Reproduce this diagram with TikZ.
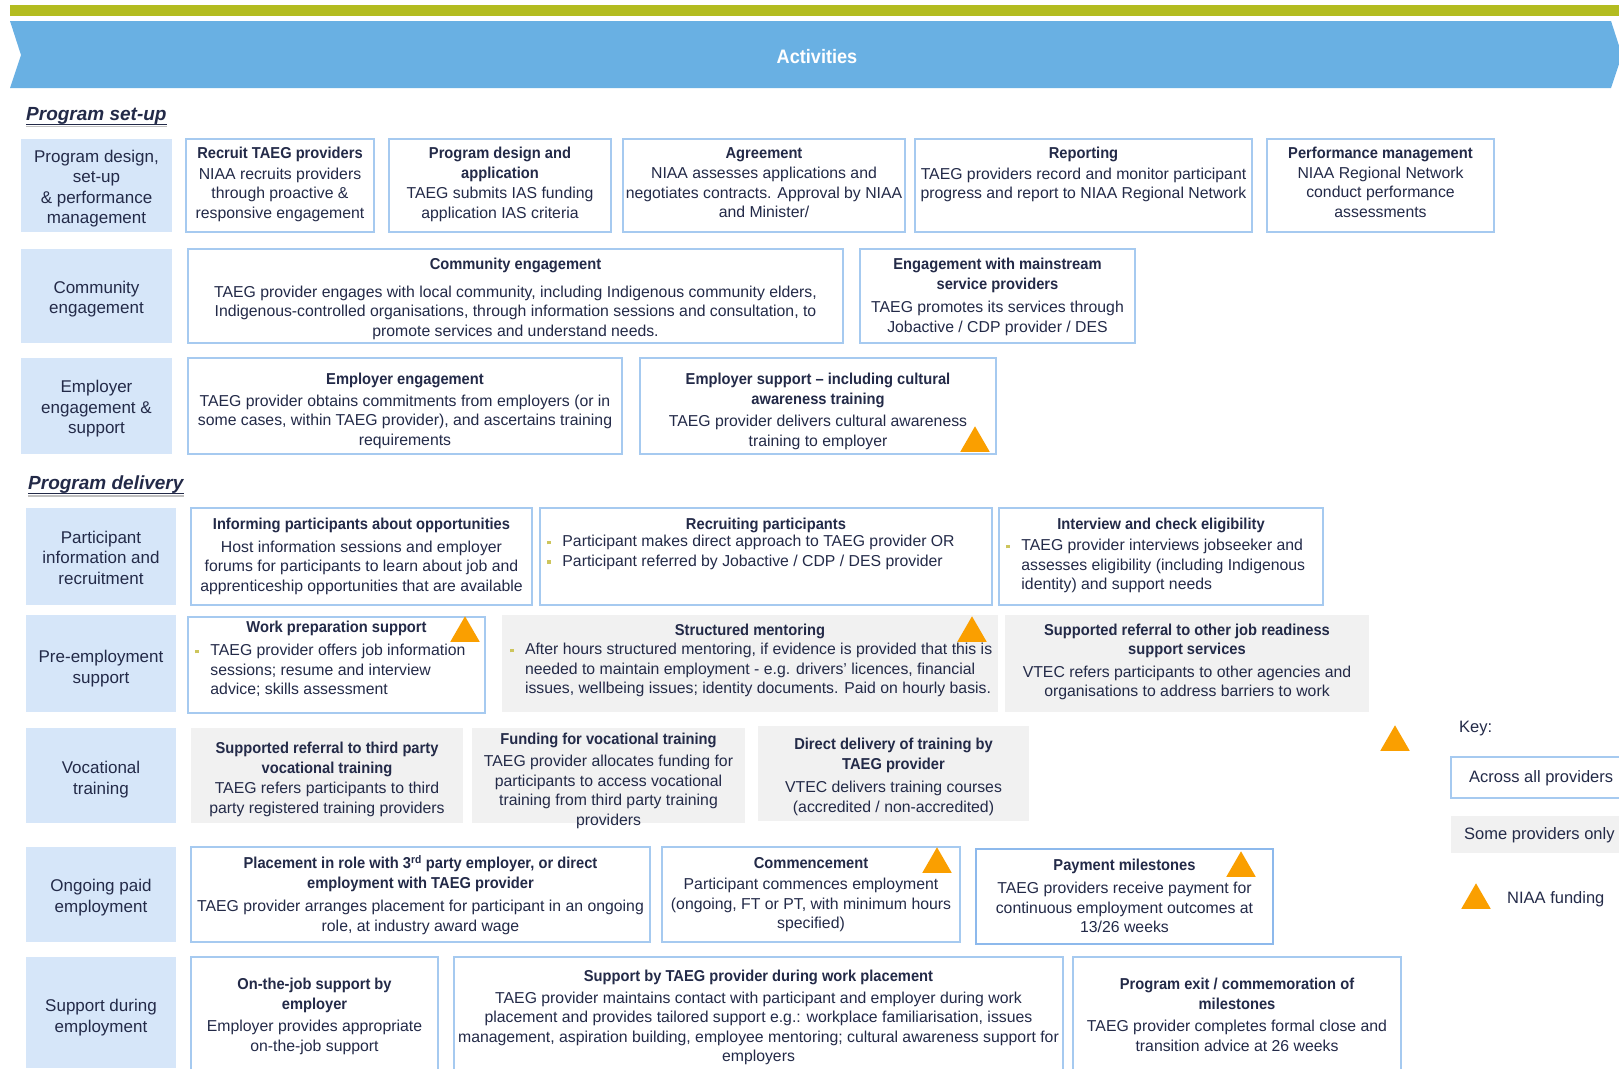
\documentclass[tikz,border=0pt]{standalone}
\usepackage{fontspec}
\setmainfont{Liberation Sans}[BoldFeatures={FakeStretch=0.93}]
\usetikzlibrary{fit, shapes.geometric}
\definecolor{BarGreen}{HTML}{B3BC20}
\definecolor{BannerBlue}{HTML}{69B0E3}
\definecolor{LabBlue}{HTML}{D6E6F9}
\definecolor{EdgeBlue}{HTML}{A6CAF0}
\definecolor{MilestoneBlue}{HTML}{8DB9EC}
\definecolor{SomeGrey}{HTML}{F1F1F1}
\definecolor{NiaaOrange}{HTML}{FA9F00}
\definecolor{DotOlive}{HTML}{CDC55C}
\definecolor{InkNavy}{HTML}{232A48}
% bullet and hanging indent
\newcommand{\blt}{\makebox[19pt][l]{\hspace{4pt}\textcolor{DotOlive}{\rule[2.5pt]{3.5pt}{3.5pt}}}}
\newcommand{\bind}{\hspace*{19pt}}

\begin{document}
\begin{tikzpicture}[
    x=1pt, y=-1pt,
    font=\fontsize{15.8}{19.5}\selectfont, text=InkNavy,
    lab/.style={fill=LabBlue, inner sep=0pt},
    labtxt/.style={align=center, inner sep=0pt, yshift=-3pt, font=\fontsize{17}{20.5}\selectfont},
    box/.style={draw=EdgeBlue, line width=1.5pt, fill=white, inner sep=0pt},
    some/.style={fill=SomeGrey, inner sep=0pt},
    txt/.style={align=center, inner sep=0pt, anchor=north},
    lst/.style={align=left, inner sep=0pt, anchor=north west},
    tri/.style={regular polygon, regular polygon sides=3, fill=NiaaOrange, inner sep=0pt,
                minimum size=34pt, anchor=side 2},
    head/.style={font=\fontsize{19}{22}\selectfont\bfseries\itshape, inner sep=0pt,
                 anchor=west, text depth=0pt},
    key/.style={font=\fontsize{16.5}{20}\selectfont, inner sep=0pt, anchor=west},
  ]
  \useasboundingbox (0,0) rectangle (1619,1068);
  \clip (0,0) rectangle (1619,1068);

  % banner
  \fill[BarGreen] (10,5) rectangle (1619,16);
  \fill[BannerBlue] (10,21) -- (1611,21) -- (1622,55) -- (1611,88) -- (10,88) -- (21,55) -- cycle;
  \node[font=\fontsize{19.5}{22}\selectfont\bfseries, text=white] (acts) at (817,57) {Activities};

  % Program set-up
  \node[head] (setup) at (26,114) {Program set-up};
  \draw[black!25, line width=1.5pt] ([yshift=-6pt]setup.south west) -- ([yshift=-6pt]setup.south east);
  \draw[InkNavy, line width=1.3pt] ([yshift=-3.5pt]setup.south west) -- ([yshift=-3.5pt]setup.south east);

  % row 1
  \node[lab, fit={(21,139) (172,232)}] (lset) {};
  \node[labtxt] (lset-t) at (lset.center) {Program design,\\set-up\\\& performance\\management};
  \node[box, fit={(186,139) (374,232)}] (recruit) {};
  \node[txt] (recruit-t) at ([yshift=-9pt]recruit.north)
    {\textbf{Recruit TAEG providers}\\[1pt]NIAA recruits providers\\through proactive \&\\responsive engagement};
  \node[box, fit={(389,139) (611,232)}] (pdesign) {};
  \node[txt] (pdesign-t) at ([yshift=-9pt]pdesign.north)
    {\textbf{Program design and}\\\textbf{application}\\[1pt]TAEG submits IAS funding\\application IAS criteria};
  \node[box, fit={(623,139) (905,232)}] (agree) {};
  \node[txt] (agree-t) at ([yshift=-9pt]agree.north)
    {\textbf{Agreement}\\[1pt]NIAA assesses applications and\\negotiates contracts. Approval by NIAA\\and Minister/};
  \node[box, fit={(915,139) (1252,232)}] (report) {};
  \node[txt] (report-t) at ([yshift=-9pt]report.north)
    {\textbf{Reporting}\\[1pt]TAEG providers record and monitor participant\\progress and report to NIAA Regional Network};
  \node[box, fit={(1267,139) (1494,232)}] (perf) {};
  \node[txt] (perf-t) at ([yshift=-9pt]perf.north)
    {\textbf{Performance management}\\NIAA Regional Network\\conduct performance\\assessments};

  % row 2
  \node[lab, fit={(21,249) (172,343)}] (lcomm) {};
  \node[labtxt] (lcomm-t) at (lcomm.center) {Community\\engagement};
  \node[box, fit={(188,249) (843,343)}] (comm) {};
  \node[txt] (comm-t) at ([yshift=-10pt]comm.north)
    {\textbf{Community engagement}\\[8pt]TAEG provider engages with local community, including Indigenous community elders,\\Indigenous-controlled organisations, through information sessions and consultation, to\\promote services and understand needs.};
  \node[box, fit={(860,249) (1135,343)}] (mainstr) {};
  \node[txt] (mainstr-t) at ([yshift=-10pt]mainstr.north)
    {\textbf{Engagement with mainstream}\\\textbf{service providers}\\[4pt]TAEG promotes its services through\\Jobactive / CDP provider / DES};

  % row 3
  \node[lab, fit={(21,358) (172,454)}] (lemp) {};
  \node[labtxt] (lemp-t) at (lemp.center) {Employer\\engagement \&\\support};
  \node[box, fit={(188,358) (622,454)}] (empeng) {};
  \node[txt] (empeng-t) at ([yshift=-16pt]empeng.north)
    {\textbf{Employer engagement}\\[2pt]TAEG provider obtains commitments from employers (or in\\some cases, within TAEG provider), and ascertains training\\requirements};
  \node[box, fit={(640,358) (996,454)}] (empsup) {};
  \node[txt] (empsup-t) at ([yshift=-16pt]empsup.north)
    {\textbf{Employer support -- including cultural}\\\textbf{awareness training}\\[3pt]TAEG provider delivers cultural awareness\\training to employer};
  \node[tri] (tri1) at (975,452) {};

  % Program delivery
  \node[head] (deliv) at (28,483) {Program delivery};
  \draw[black!25, line width=1.5pt] ([yshift=-6pt]deliv.south west) -- ([yshift=-6pt]deliv.south east);
  \draw[InkNavy, line width=1.3pt] ([yshift=-3.5pt]deliv.south west) -- ([yshift=-3.5pt]deliv.south east);

  % row 4
  \node[lab, fit={(26,508) (176,605)}] (lpart) {};
  \node[labtxt] (lpart-t) at ([yshift=2pt]lpart.center) {Participant\\information and\\recruitment};
  \node[box, fit={(191,508) (532,605)}] (inform) {};
  \node[txt] (inform-t) at ([yshift=-11pt]inform.north)
    {\textbf{Informing participants about opportunities}\\[3pt]Host information sessions and employer\\forums for participants to learn about job and\\apprenticeship opportunities that are available};
  \node[box, fit={(540,508) (992,605)}] (recruitp) {};
  \node[txt] (recruitp-t) at ([yshift=-11pt]recruitp.north) {\textbf{Recruiting participants}};
  \node[lst] (recruitp-l) at ([xshift=4pt, yshift=-28pt]recruitp.north west)
    {\blt Participant makes direct approach to TAEG provider OR\\\blt Participant referred by Jobactive / CDP / DES provider};
  \node[box, fit={(999,508) (1323,605)}] (interview) {};
  \node[txt] (interview-t) at ([yshift=-11pt]interview.north) {\textbf{Interview and check eligibility}};
  \node[lst] (interview-l) at ([xshift=4pt, yshift=-32pt]interview.north west)
    {\blt TAEG provider interviews jobseeker and\\\bind assesses eligibility (including Indigenous\\\bind identity) and support needs};

  % row 5
  \node[lab, fit={(26,615) (176,712)}] (lpre) {};
  \node[labtxt] (lpre-t) at ([yshift=-2pt]lpre.center) {Pre-employment\\support};
  \node[box, fit={(188,617) (485,713)}] (workprep) {};
  \node[txt] (workprep-t) at ([yshift=-4.5pt]workprep.north) {\textbf{Work preparation support}};
  \node[lst] (workprep-l) at ([xshift=4pt, yshift=-28pt]workprep.north west)
    {\blt TAEG provider offers job information\\\bind sessions; resume and interview\\\bind advice; skills assessment};
  \node[tri] (tri2) at (465,642) {};
  \node[some, fit={(502,615) (998,712)}] (mentor) {};
  \node[txt] (mentor-t) at ([yshift=-9pt]mentor.north) {\textbf{Structured mentoring}};
  \node[lst] (mentor-l) at ([xshift=4pt, yshift=-28.5pt]mentor.north west)
    {\blt After hours structured mentoring, if evidence is provided that this is\\\bind needed to maintain employment - e.g. drivers' licences, financial\\\bind issues, wellbeing issues; identity documents. Paid on hourly basis.};
  \node[tri] (tri3) at (972,642) {};
  \node[some, fit={(1005,615) (1369,712)}] (referral) {};
  \node[txt] (referral-t) at ([yshift=-9pt]referral.north)
    {\textbf{Supported referral to other job readiness}\\\textbf{support services}\\[3pt]VTEC refers participants to other agencies and\\organisations to address barriers to work};

  % row 6
  \node[lab, fit={(26,728) (176,823)}] (lvoc) {};
  \node[labtxt] (lvoc-t) at ([yshift=-1pt]lvoc.center) {Vocational\\training};
  \node[some, fit={(191,728) (463,823)}] (third) {};
  \node[txt] (third-t) at ([yshift=-14.5pt]third.north)
    {\textbf{Supported referral to third party}\\\textbf{vocational training}\\[1pt]TAEG refers participants to third\\party registered training providers};
  \node[some, fit={(472,728) (745,823)}] (fund) {};
  \node[txt] (fund-t) at ([yshift=-5pt]fund.north)
    {\textbf{Funding for vocational training}\\[3pt]TAEG provider allocates funding for\\participants to access vocational\\training from third party training\\providers};
  \node[some, fit={(758,726) (1029,821)}] (direct) {};
  \node[txt] (direct-t) at ([yshift=-12.5pt]direct.north)
    {\textbf{Direct delivery of training by}\\\textbf{TAEG provider}\\[4pt]VTEC delivers training courses\\(accredited / non-accredited)};
  \node[tri] (tri4) at (1395,751) {};

  % key
  \node[key] (keyhd) at (1459,729) {Key:};
  \node[box, fit={(1451,757) (1625,798)}] (keyall) {};
  \node[key] (keyall-t) at (1469,778) {Across all providers};
  \node[some, fit={(1451,816) (1625,853)}] (keysome) {};
  \node[key] (keysome-t) at (1464,835) {Some providers only};
  \node[tri] (keytri) at (1476,909) {};
  \node[key] (keytri-t) at (1507,899) {NIAA funding};

  % row 7
  \node[lab, fit={(26,847) (176,942)}] (lpaid) {};
  \node[labtxt] (lpaid-t) at (lpaid.center) {Ongoing paid\\employment};
  \node[box, fit={(191,847) (650,942)}] (place) {};
  \node[txt] (place-t) at ([yshift=-9pt]place.north)
    {\textbf{Placement in role with 3\textsuperscript{rd} party employer, or direct}\\\textbf{employment with TAEG provider}\\[4pt]TAEG provider arranges placement for participant in an ongoing\\role, at industry award wage};
  \node[box, fit={(662,847) (960,942)}] (commence) {};
  \node[txt] (commence-t) at ([yshift=-11pt]commence.north)
    {\textbf{Commencement}\\[2pt]Participant commences employment\\(ongoing, FT or PT, with minimum hours\\specified)};
  \node[tri] (tri5) at (937,873) {};
  \node[box, draw=MilestoneBlue, line width=2.5pt, fit={(976,849) (1273,944)}] (payment) {};
  \node[txt] (payment-t) at ([yshift=-11pt]payment.north)
    {\textbf{Payment milestones}\\[4pt]TAEG providers receive payment for\\continuous employment outcomes at\\13/26 weeks};
  \node[tri] (tri6) at (1241,877) {};

  % row 8
  \node[lab, fit={(26,957) (176,1068)}] (lsupp) {};
  \node[labtxt] (lsupp-t) at ([yshift=-2pt]lsupp.center) {Support during\\employment};
  \node[box, fit={(191,957) (438,1075)}] (onjob) {};
  \node[txt] (onjob-t) at ([yshift=-22pt]onjob.north)
    {\textbf{On-the-job support by}\\\textbf{employer}\\[3pt]Employer provides appropriate\\on-the-job support};
  \node[box, fit={(454,957) (1063,1075)}] (suptaeg) {};
  \node[txt] (suptaeg-t) at ([yshift=-14pt]suptaeg.north)
    {\textbf{Support by TAEG provider during work placement}\\[2pt]TAEG provider maintains contact with participant and employer during work\\placement and provides tailored support e.g.: workplace familiarisation, issues\\management, aspiration building, employee mentoring; cultural awareness support for\\employers};
  \node[box, fit={(1073,957) (1401,1075)}] (exit) {};
  \node[txt] (exit-t) at ([yshift=-22pt]exit.north)
    {\textbf{Program exit / commemoration of}\\\textbf{milestones}\\[3pt]TAEG provider completes formal close and\\transition advice at 26 weeks};
\end{tikzpicture}
\end{document}
